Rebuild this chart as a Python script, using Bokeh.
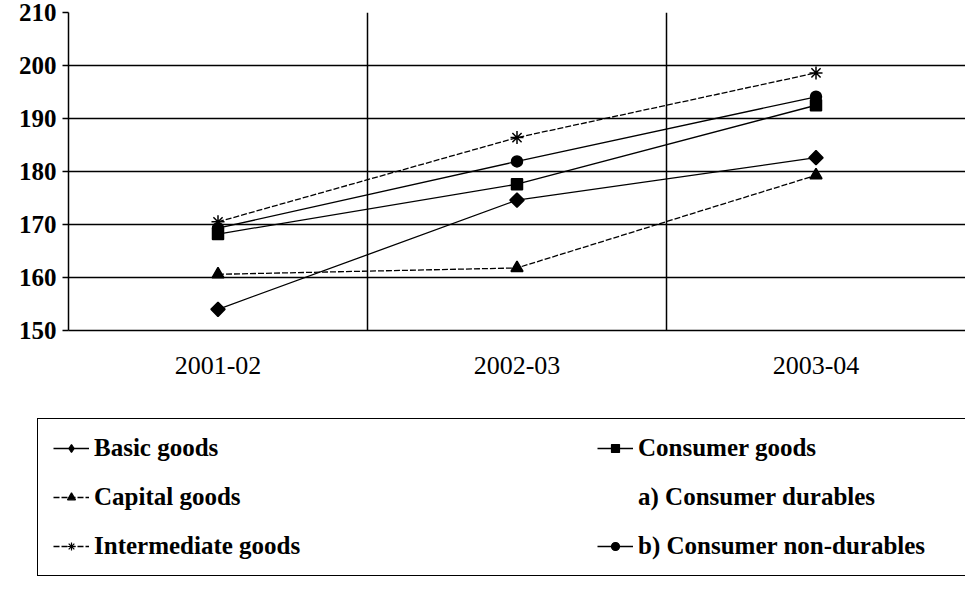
import math
from bokeh.plotting import figure
from bokeh.layouts import column
from bokeh.models import Legend, LegendItem, Span, FixedTicker, ColumnDataSource
from bokeh.embed import file_html
from bokeh.resources import INLINE

years = ["2001-02", "2002-03", "2003-04"]
basic_goods = [154.0, 174.6, 182.6]
capital_goods = [160.6, 161.8, 179.3]
intermediate_goods = [170.5, 186.4, 198.6]
consumer_goods = [168.2, 177.6, 192.5]
consumer_durables = []  # no marks visible in the chart
consumer_nondurables = [169.3, 181.9, 194.1]
y_ticks = [150, 160, 170, 180, 190, 200, 210]

FONT = "Liberation Serif"

p = figure(x_range=years, y_range=(150, 210), width=965, height=400,
           output_backend="svg", toolbar_location=None,
           min_border_left=68, min_border_right=0, min_border_top=12,
           min_border_bottom=70, outline_line_color=None,
           background_fill_color="white", border_fill_color="white")
p.frame_align = False

p.xgrid.visible = False
p.ygrid.ticker = FixedTicker(ticks=y_ticks)
p.ygrid.grid_line_color = "black"
p.ygrid.grid_line_width = 1.5
for b in [1, 2]:
    p.add_layout(Span(location=b, dimension="height", line_color="black", line_width=1.5))

p.yaxis.ticker = FixedTicker(ticks=y_ticks)
p.yaxis.axis_line_color = "black"
p.yaxis.axis_line_width = 1.5
p.yaxis.major_tick_out = 6
p.yaxis.major_tick_in = 0
p.yaxis.minor_tick_line_color = None
p.yaxis.major_tick_line_width = 1.5
p.yaxis.major_label_text_font = FONT
p.yaxis.major_label_text_font_size = "25px"
p.yaxis.major_label_text_font_style = "bold"
p.yaxis.major_label_text_color = "black"
p.yaxis.major_label_standoff = 6

p.xaxis.axis_line_color = "black"
p.xaxis.axis_line_width = 1.5
p.xaxis.major_tick_line_color = None
p.xaxis.major_label_text_font = FONT
p.xaxis.major_label_text_font_size = "26px"
p.xaxis.major_label_text_color = "black"
p.xaxis.major_label_standoff = 20

# (label, values, dash, marker, size, angle, legend marker)
styles = [
    ("Basic goods", basic_goods, "solid", "square", 10, math.pi / 4, "diamond"),
    ("Capital goods", capital_goods, "6 2", "triangle", 12, 0, "triangle"),
    ("Intermediate goods", intermediate_goods, "6 2", "asterisk", 13, 0, "asterisk"),
    ("Consumer goods", consumer_goods, "solid", "square", 11, 0, "square"),
    ("a) Consumer durables", consumer_durables, None, None, 0, 0, None),
    ("b) Consumer non-durables", consumer_nondurables, "solid", "circle", 11, 0, "circle"),
]

# main chart
for label, vals, dash, marker, size, ang, lmarker in styles:
    if not vals:
        continue
    src = ColumnDataSource(dict(x=years[:len(vals)], y=vals))
    p.line("x", "y", source=src, line_color="black", line_width=1.3, line_dash=dash)
    p.scatter("x", "y", source=src, marker=marker, size=size, angle=ang,
              fill_color="black", line_color="black", line_width=1.5)

# legend panel (separate figure below the chart)
lg = figure(width=965, height=189, x_range=(0, 1), y_range=(0, 1),
            output_backend="svg", toolbar_location=None,
            x_axis_type=None, y_axis_type=None,
            min_border_left=0, min_border_right=0, min_border_top=0, min_border_bottom=0,
            outline_line_color=None, background_fill_color="white",
            border_fill_color="white")
lg.frame_align = False
lg.grid.visible = False

items = []
for label, vals, dash, marker, size, ang, lmarker in styles:
    # series values lie far outside the (0, 1) ranges: only the legend glyph shows
    src = ColumnDataSource(dict(x=list(vals), y=list(vals)))
    if lmarker is None:
        rs = [lg.line("x", "y", source=src, line_alpha=0)]
    else:
        lsize = 12 if lmarker == "diamond" else max(size - 3, 7)
        rs = [lg.line("x", "y", source=src, line_color="black", line_width=1.3, line_dash=dash),
              lg.scatter("x", "y", source=src, marker=lmarker, size=lsize,
                         fill_color="black", line_color="black", line_width=1.2)]
    items.append(LegendItem(label=label, renderers=rs))

legend = Legend(items=items, orientation="vertical", nrows=3,
                location=(37, 13),
                label_text_font=FONT, label_text_font_style="bold",
                label_text_font_size="25px", label_text_color="black",
                glyph_width=36, glyph_height=20, label_standoff=5,
                label_width=482, spacing=21, padding=15, margin=0,
                border_line_color="black", border_line_width=1.5,
                border_line_alpha=1.0, background_fill_alpha=1.0)
lg.add_layout(legend, "center")

layout = column(p, lg, spacing=0)
open("out.html", "w").write(file_html(layout, INLINE))
